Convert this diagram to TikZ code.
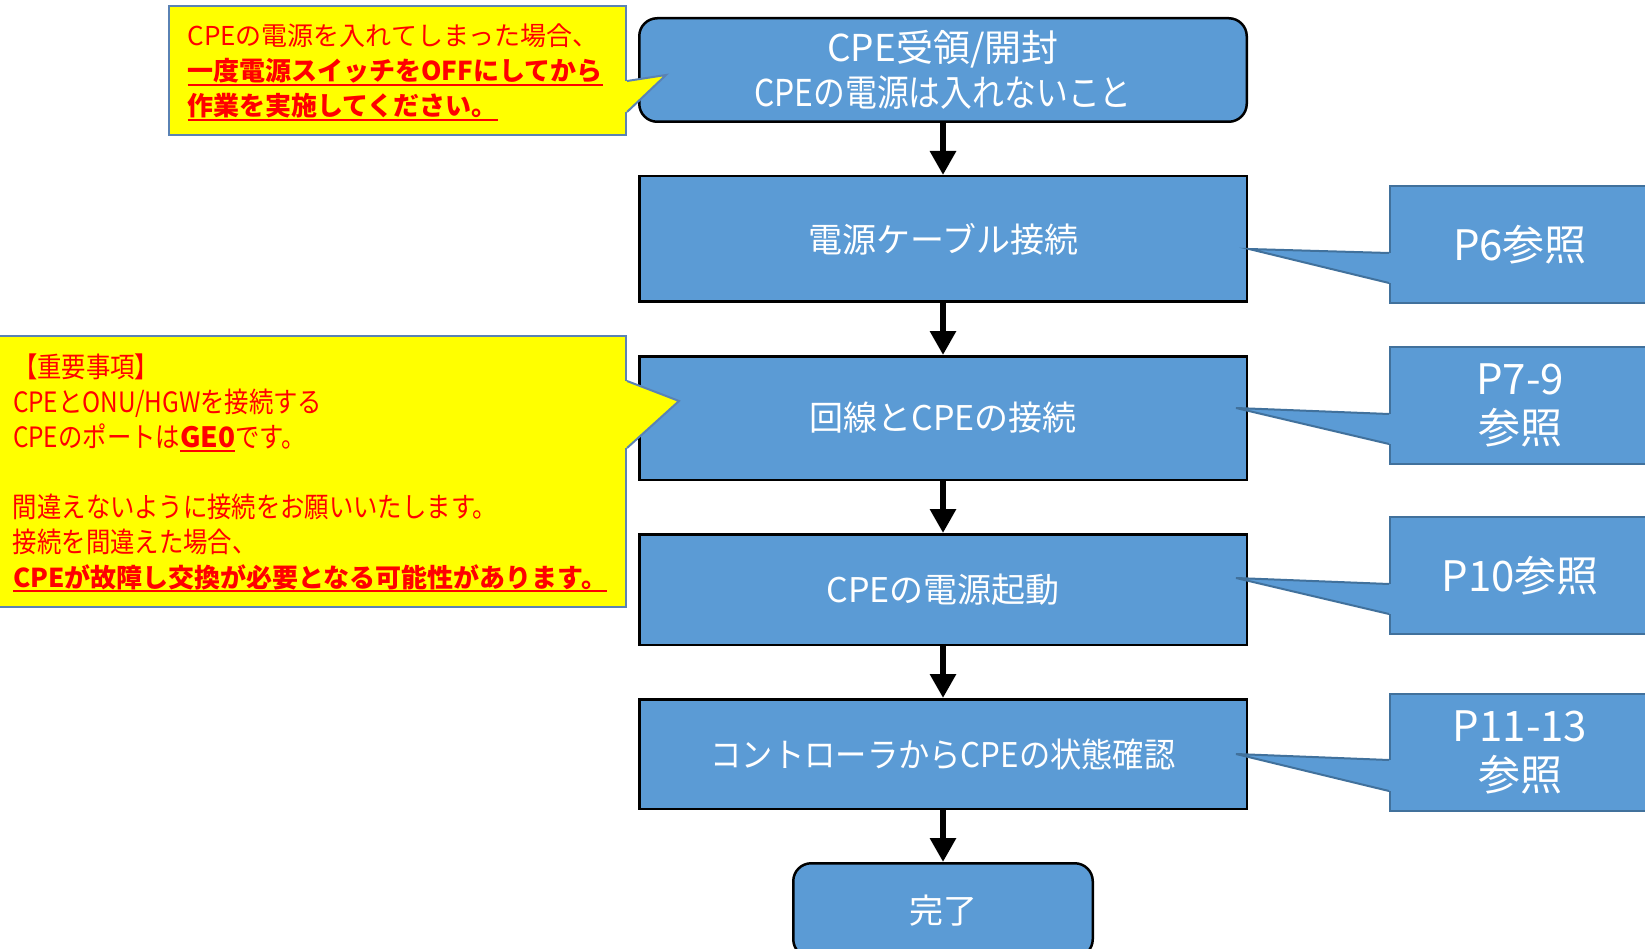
\documentclass[tikz,border=0pt]{standalone}
\usepackage{fontspec}
\setmainfont{Noto Sans CJK JP}
\newfontfamily\narrowjp[FakeStretch=0.86]{Noto Sans CJK JP}
\newfontfamily\slimjp[FakeStretch=0.92]{Noto Sans CJK JP}
\newfontfamily\notejp[FakeStretch=0.87]{Noto Sans CJK JP}
\usetikzlibrary{positioning, calc, arrows.meta}
\definecolor{boxblue}{HTML}{5B9BD5}
\definecolor{tagedge}{HTML}{41719C}
\definecolor{noteyellow}{HTML}{FFFF00}
\definecolor{noteedge}{HTML}{5A82B4}
\definecolor{notered}{HTML}{FF0000}
\newcommand{\redline}[1]{\leavevmode\setbox0\hbox{#1}\rlap{\raisebox{-5pt}[0pt][0pt]{\color{notered}\rule{\wd0}{2pt}}}\box0}

\begin{document}
\begin{tikzpicture}[x=1pt, y=-1pt,
    flowbox/.style={rectangle, 
      draw=black, 
      line width=2.5pt, 
      fill=boxblue, 
      text=white, 
      minimum width=607.5pt, 
      align=center, 
      font=\fontsize{34}{45}\selectfont},
    endbox/.style={flowbox, rounded corners=18pt},
    flowarrow/.style={line width=6.5pt, -{Triangle[width=25pt, length=24pt]}},
    note/.style={rectangle, 
      draw=noteedge, 
      line width=2pt, 
      fill=noteyellow, 
      text=notered, 
      align=left, 
      font=\fontsize{26}{35}\selectfont},
    reftag/.style={rectangle, 
      draw=tagedge, 
      line width=2pt, 
      fill=boxblue, 
      text=white, 
      minimum width=260pt, 
      minimum height=117pt, 
      align=center, 
      font=\fontsize{42}{49}\selectfont}]
  \clip (0,0) rectangle (1645,949);

  % FLOW

  \node [endbox, minimum height=103.5pt, 
    font=\fontsize{37}{45}\selectfont] (receive) at (943,70) {
    CPE受領/開封\\
    {\narrowjp CPEの電源は入れないこと}
  };

  \node [flowbox, minimum height=125.5pt, below=52pt of receive] (cable) {電源ケーブル接続};
  \node [flowbox, minimum height=123.5pt, below=52pt of cable] (line) {回線とCPEの接続};
  \node [flowbox, minimum height=110.5pt, below=52pt of line] (power) {CPEの電源起動};
  \node [flowbox, minimum height=109.5pt, below=52pt of power] (check) {{\slimjp コントローラからCPEの状態確認}};
  \node [endbox, minimum width=299.5pt, minimum height=94pt, below=52pt of check] (done) {完了};

  \foreach \from/\to in {receive/cable, cable/line, line/power, power/check, check/done}
    \draw[flowarrow] (\from) -- (\to);

  % PAGE REFERENCES

  \node [reftag, anchor=west] (ref6) at (1389,244.5) {P6参照};
  \node [reftag, anchor=west] (ref7) at (1389,405) {P7-9\\参照};
  \node [reftag, anchor=west] (ref10) at (1389,575.5) {P10参照};
  \node [reftag, anchor=west] (ref11) at (1389,752.5) {P11-13\\参照};

  % WARNINGS

  \node [note, minimum width=457pt, minimum height=129pt, 
    text width=420pt, inner xsep=18.5pt] (warnnote) at (397.5,71) {
    CPEの電源を入れてしまった場合、\\
    \textbf{\redline{一度電源スイッチをOFFにしてから}}\\
    \textbf{\redline{作業を実施してください。}}
  };

  \node [note, minimum width=628pt, minimum height=271pt, 
    text width=598pt, inner xsep=15pt, 
    font=\notejp\fontsize{28}{35}\selectfont] (portnote) at (312,471.5) {
    【重要事項】\\
    CPEとONU/HGWを接続する\\
    CPEのポートは{\rmfamily\bfseries\redline{GE0}}です。\\[35pt]
    間違えないように接続をお願いいたします。\\
    接続を間違えた場合、\\
    {\rmfamily\bfseries\fontsize{26}{35}\selectfont\redline{CPEが故障し交換が必要となる可能性があります。}}
  };

  % CALLOUT TAILS

  \coordinate (tipA) at ($(receive.west)+(28,5)$);
  \coordinate (tipB) at ($(line.west)+(41,-17)$);
  \coordinate (tip6) at ($(cable.east)+(1,10)$);
  \coordinate (tip7) at ($(line.east)+(-12,-10)$);
  \coordinate (tip10) at ($(power.east)+(-12,-11.5)$);
  \coordinate (tip11) at ($(check.east)+(-12,0)$);

  \foreach \tnode/\tside/\tya/\tyb/\ttip/\tfill/\tline in {
      warnnote/east/10/41/tipA/noteyellow/noteedge, 
      portnote/east/-90.5/-23.5/tipB/noteyellow/noteedge, 
      ref6/west/8.5/38.5/tip6/boxblue/tagedge, 
      ref7/west/9/39/tip7/boxblue/tagedge, 
      ref10/west/8.5/38.5/tip10/boxblue/tagedge, 
      ref11/west/7.5/38.5/tip11/boxblue/tagedge}
  {
    \fill[\tfill] ($(\tnode.\tside)+(0,\tya)$) -- (\ttip) -- ($(\tnode.\tside)+(0,\tyb)$) -- cycle;
    \draw[\tfill, line width=4.5pt] ($(\tnode.\tside)+(0,\tya)$) -- ($(\tnode.\tside)+(0,\tyb)$);
    \draw[\tline, line width=2pt] ($(\tnode.\tside)+(0,\tya)$) -- (\ttip) -- ($(\tnode.\tside)+(0,\tyb)$);
  }

\end{tikzpicture}
\end{document}
